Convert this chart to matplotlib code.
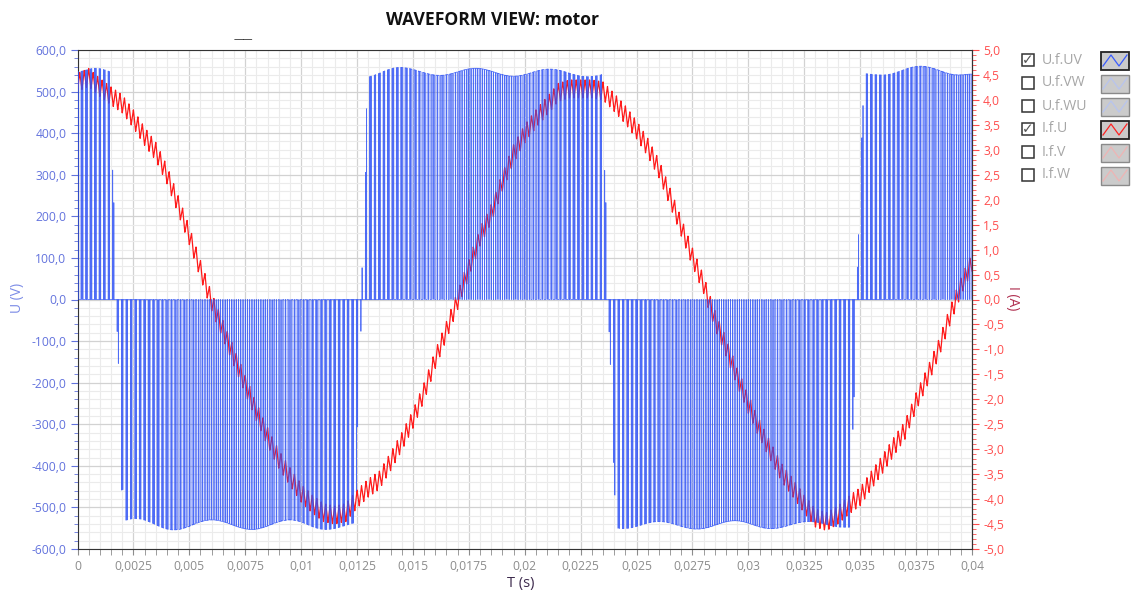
import numpy as np
import matplotlib.pyplot as plt
from matplotlib.patches import Rectangle
from matplotlib.ticker import MultipleLocator, FuncFormatter

plt.rcParams["font.family"] = ["Open Sans", "DejaVu Sans"]

# I.f.U every 0.5 ms (A)
t_cur = np.linspace(0.0, 0.04, 81)
i_cur = [4.35, 4.45, 4.25, 4.08, 3.92, 3.62, 3.27, 2.97, 2.50, 1.90,
         1.28, 0.60, -0.05, -0.60, -1.15, -1.70, -2.25, -2.75, -3.20, -3.55,
         -3.88, -4.10, -4.27, -4.32, -4.27, -4.00, -3.78, -3.62, -3.25, -2.85,
         -2.40, -1.85, -1.20, -0.62, -0.02, 0.62, 1.25, 1.72, 2.35, 2.92,
         3.32, 3.62, 3.88, 4.15, 4.22, 4.22, 4.22, 4.18, 3.95, 3.70,
         3.40, 3.05, 2.62, 2.05, 1.45, 0.85, 0.30, -0.40, -0.95, -1.55,
         -2.10, -2.60, -3.05, -3.48, -3.78, -4.10, -4.38, -4.45, -4.32, -4.12,
         -3.95, -3.62, -3.30, -2.95, -2.62, -2.05, -1.55, -1.00, -0.35, 0.25,
         0.75]
ripple_amp = 0.18  # A, current ripple

# U.f.UV: half-cycle start times (s) and polarity of the pulses
half_start = [-0.0093, 0.00175, 0.0127, 0.02375, 0.03485, 0.0459]
half_sign = [1, -1, 1, -1, 1]
sw_period = 0.0002  # s, pulse spacing
min_width = 7  # samples (us); narrower pulses show reduced height

# duty of the two inverter legs across one half-cycle of U.f.UV
leg_pos = [0.0, 0.1, 0.2, 0.3, 0.4, 0.5, 0.6, 0.7, 0.8, 0.9, 1.0]
leg_hi = [0.262, 0.401, 0.550, 0.693, 0.818, 0.911, 0.965, 0.972, 0.934, 0.853, 0.738]
leg_lo = [0.262, 0.147, 0.066, 0.028, 0.035, 0.089, 0.182, 0.307, 0.450, 0.599, 0.738]

# DC bus level (pulse height, V)
bus_t = [0.0, 0.0008, 0.0026, 0.0043, 0.0060, 0.0078, 0.0095, 0.0111, 0.0128,
         0.0144, 0.0162, 0.0178, 0.0195, 0.0211, 0.0228, 0.0244, 0.0260, 0.0277,
         0.0294, 0.0310, 0.0327, 0.0343, 0.0360, 0.0377, 0.0394, 0.0400]
bus_v = [548, 556, 527, 554, 530, 553, 530, 553, 535,
         558, 539, 556, 537, 554, 536, 551, 534, 552,
         532, 551, 534, 548, 540, 561, 540, 542]

legend_names = ["U.f.UV", "U.f.VW", "U.f.WU", "I.f.U", "I.f.V", "I.f.W"]
legend_on = [True, False, False, True, False, False]


def smooth_interp(x, xp, fp):
    xp = np.asarray(xp, float)
    fp = np.asarray(fp, float)
    j = np.clip(np.searchsorted(xp, x, side="right") - 1, 0, len(xp) - 2)
    u = (x - xp[j]) / (xp[j + 1] - xp[j])
    w = (1 - np.cos(np.pi * u)) / 2
    return fp[j] + (fp[j + 1] - fp[j]) * w


# build the sampled waveforms (1 us grid)
t = np.linspace(0.0, 0.04, 40001)
phase = (t / sw_period) % 1.0
tri = 1 - np.abs(2 * phase - 1)

k = np.searchsorted(half_start, t, side="right") - 1
starts = np.asarray(half_start)
sign = np.asarray(half_sign)[k]
u = (t - starts[k]) / (starts[k + 1] - starts[k])
u = np.where(sign > 0, u, 1 - u)
d_hi = np.interp(u, leg_pos, leg_hi)
d_lo = np.interp(u, leg_pos, leg_lo)
dist = np.abs(phase - 0.5)
on = (dist <= d_hi / 2) & (dist > d_lo / 2)

# narrow pulses only reach part of the bus level
edges = np.diff(np.r_[0, on.astype(int), 0])
rises = np.where(edges == 1)[0]
falls = np.where(edges == -1)[0]
height = np.zeros(len(t))
for r, f in zip(rises, falls):
    height[r:f] = min(1.0, (f - r) / min_width)

volt = sign * smooth_interp(t, bus_t, bus_v) * height
cur = np.interp(t, t_cur, i_cur) + ripple_amp * (2 * tri - 1)

fig = plt.figure(figsize=(11.32, 5.95), dpi=100)
ax = fig.add_axes([77.5 / 1132, 46 / 595, 894.5 / 1132, 499 / 595])

ax.plot(t, cur * 120, color="#ff1a1a", lw=0.9, zorder=3)
ax.plot(t, volt, color="#2f52f5", lw=0.55, alpha=0.85, zorder=4)

ax.set_xlim(0, 0.04)
ax.set_ylim(-600, 600)

ax.xaxis.set_major_locator(MultipleLocator(0.0025))
ax.xaxis.set_minor_locator(MultipleLocator(0.0005))
ax.yaxis.set_major_locator(MultipleLocator(100))
ax.yaxis.set_minor_locator(MultipleLocator(20))
ax.grid(which="major", color="#d2d2d2", lw=0.9, zorder=0)
ax.grid(which="minor", color="#ebebeb", lw=0.8, zorder=0)
ax.set_axisbelow(True)


def comma(fmt):
    def f(v, pos):
        if abs(v) < 1e-9:
            v = 0.0
        return fmt(v).replace(".", ",")
    return FuncFormatter(f)


ax.xaxis.set_major_formatter(comma(lambda v: f"{v:.4f}".rstrip("0").rstrip(".")))
ax.yaxis.set_major_formatter(comma(lambda v: f"{v:.1f}"))
ax.tick_params(axis="x", which="major", length=4, colors="#8c8c8c", labelsize=8.7, pad=4)
ax.tick_params(axis="x", which="minor", length=4, color="#8c8c8c")
ax.tick_params(axis="y", which="major", length=5, colors="#6373dd", labelsize=8.7, pad=3)
ax.tick_params(axis="y", which="minor", length=3, color="#6373dd")
for s in ax.spines.values():
    s.set_color("#333333")

ax2 = ax.secondary_yaxis("right", functions=(lambda v: v / 120, lambda a: a * 120))
ax2.yaxis.set_major_locator(MultipleLocator(0.5))
ax2.yaxis.set_minor_locator(MultipleLocator(0.1))
ax2.yaxis.set_major_formatter(comma(lambda v: f"{v:.1f}"))
ax2.tick_params(which="major", length=5, colors="#ff4d4d", labelsize=8.7, pad=3)
ax2.tick_params(which="minor", length=3, color="#ff4d4d")
ax2.spines["right"].set_color("#222222")

fig.text(521 / 1132, 1 - 583 / 595, "T (s)", color="#3d2a4d", fontsize=10.5,
         ha="center", va="center")
fig.text(18 / 1132, 1 - 298 / 595, "U (V)", rotation=90, color="#7b8be6",
         fontsize=10, ha="center", va="center")
fig.text(1013 / 1132, 1 - 298 / 595, "I (A)", rotation=270, color="#b03050",
         fontsize=10, ha="center", va="center")
fig.text(492 / 1132, 1 - 20 / 595, "WAVEFORM VIEW: motor", fontsize=12.6,
         fontweight="bold", ha="center", va="center", color="#111111")
fig.text(243 / 1132, 1 - 40 / 595, "\u2014\u2014", fontsize=7, ha="center",
         va="center", color="#222222")

# legend panel with check boxes and line swatches
lg = fig.add_axes([0, 0, 1, 1])
lg.set_xlim(0, 1132)
lg.set_ylim(595, 0)
lg.axis("off")
row_y = 60
for name, shown in zip(legend_names, legend_on):
    lg.add_patch(Rectangle((1022, row_y - 6), 12, 12, fill=False, ec="#333333", lw=1.1))
    if shown:
        lg.text(1028, row_y, "\u2713", family="DejaVu Sans", fontsize=10,
                ha="center", va="center", color="#555555")
    lg.text(1042, row_y, name, fontsize=10.2, color="#a6a6a6", va="center", ha="left")
    is_volt = name.startswith("U")
    if is_volt:
        zig = "#3a5cff" if shown else "#b8c4ee"
    else:
        zig = "#ff2222" if shown else "#eeb4b4"
    lg.add_patch(Rectangle((1101, row_y - 8.5), 28, 18, fc="#cbcbcb",
                           ec="#222222" if shown else "#8a8a8a", lw=1.3 if shown else 1.0))
    lg.plot([1103, 1111, 1119, 1127], [row_y + 6, row_y - 5, row_y + 6, row_y - 5],
            color=zig, lw=0.9)
    row_y += 23

fig.savefig("out.png", dpi=100)
